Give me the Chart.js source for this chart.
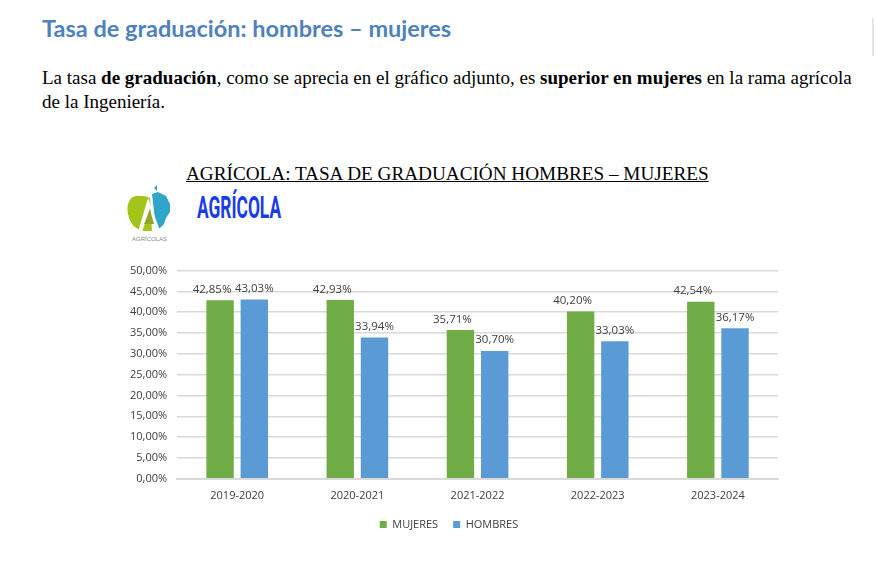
<!DOCTYPE html>
<html>
<head>
<meta charset="utf-8">
<script src="https://cdn.jsdelivr.net/npm/chart.js@4/dist/chart.umd.min.js"></script>
<style>
  body { margin: 0; background: #fff; width: 876px; height: 570px; position: relative; overflow: hidden; }
  h1 { position: absolute; left: 42px; top: 14px; margin: 0; font: bold 23.5px Lato, "Open Sans", sans-serif; color: #4f81bd; white-space: nowrap; }
  p { position: absolute; left: 42px; top: 66px; margin: 0; width: 820px; font: 19px "Liberation Serif", serif; line-height: 24px; color: #000; }
  .ttl { position: absolute; left: 186px; top: 163px; font: 19.2px "Liberation Serif", serif; text-decoration: underline; color: #000; white-space: nowrap; }
  .brand { position: absolute; left: 197px; top: 189px; font: bold 31px "Liberation Sans Narrow", "Roboto", sans-serif; color: #1a3be8; transform: scaleX(0.56); transform-origin: left; white-space: nowrap; }
  .logo { position: absolute; left: 126px; top: 184px; }
  .scroll { position: absolute; left: 872px; top: 18px; width: 2px; height: 38px; background: #e6e6e6; }
  #wrap { position: absolute; left: 120px; top: 254px; width: 670px; height: 287px; }
</style>
</head>
<body>
<h1>Tasa de graduación: hombres – mujeres</h1>
<div class="scroll"></div>
<p>La tasa <b>de graduación</b>, como se aprecia en el gráfico adjunto, es <b>superior en mujeres</b> en la rama agrícola de la Ingeniería.</p>
<div class="ttl">AGRÍCOLA: TASA DE GRADUACIÓN HOMBRES – MUJERES</div>
<svg class="logo" width="50" height="62" viewBox="0 0 50 62">
  <path d="M14 12 C4 10 0 20 2 30 C4 40 10 46 18 47 L26 47 L24 14 C20 12 17 12 14 12 Z" fill="#a3c41a"/>
  <path d="M26 10 L32 8 L40 12 L44 20 L44 28 L40 34 L38 40 L34 44 L30 44 Z" fill="#2fa5c9"/>
  <path d="M28 4 L31 1 L31 7 Z" fill="#2fa5c9"/>
  <path d="M22 14 L12 48 L16 48 L24 24 L30 44 L33 44 Z" fill="#fff"/>
  <path d="M18 40 L24 26 L28 40 Z" fill="#8da32a"/>
  <text x="6" y="57" font-family="Liberation Sans, sans-serif" font-size="6" fill="#888">AGRÍCOLAS</text>
</svg>
<div class="brand">AGRÍCOLA</div>
<div id="wrap"><canvas id="c"></canvas></div>
<script>
const years = ['2019-2020', '2020-2021', '2021-2022', '2022-2023', '2023-2024'];
const mujeres = [42.85, 42.93, 35.71, 40.20, 42.54];
const hombres = [43.03, 33.94, 30.70, 33.03, 36.17];
const yTicks = [0, 5, 10, 15, 20, 25, 30, 35, 40, 45, 50];

function pct(v) { return v.toFixed(2).replace('.', ',') + '%'; }

const labelPlugin = {
  id: 'barLabels',
  afterDatasetsDraw(chart) {
    const ctx = chart.ctx;
    ctx.save();
    ctx.font = '11.5px "Open Sans", sans-serif';
    ctx.fillStyle = '#404040';
    ctx.textAlign = 'center';
    ctx.textBaseline = 'bottom';
    chart.data.datasets.forEach((ds, i) => {
      chart.getDatasetMeta(i).data.forEach((bar, j) => {
        const dx = i === 0 ? -8 : 0;
        ctx.fillText(pct(ds.data[j]), bar.x + dx, bar.y - 5);
      });
    });
    ctx.restore();
  }
};

new Chart(document.getElementById('c'), {
  type: 'bar',
  data: {
    labels: years,
    datasets: [
      { label: 'MUJERES', data: mujeres, backgroundColor: '#70ad47' },
      { label: 'HOMBRES', data: hombres, backgroundColor: '#5b9bd5' }
    ]
  },
  options: {
    responsive: true,
    maintainAspectRatio: false,
    animation: false,
    categoryPercentage: 0.57,
    barPercentage: 0.8,
    layout: { padding: { left: 0, right: 12, top: 6, bottom: 1 } },
    plugins: {
      legend: {
        position: 'bottom',
        labels: { boxWidth: 7, boxHeight: 7, color: '#404040', font: { size: 11, family: '"Open Sans", sans-serif' }, padding: 15 }
      },
      tooltip: { enabled: false }
    },
    scales: {
      x: {
        grid: { display: false },
        border: { color: '#d9d9d9', width: 2 },
        ticks: { color: '#404040', font: { size: 11, family: '"Open Sans", sans-serif' }, padding: 2 }
      },
      y: {
        min: 0, max: 50,
        afterBuildTicks: axis => { axis.ticks = yTicks.map(v => ({ value: v })); },
        grid: { color: '#d9d9d9', lineWidth: 1.5, drawTicks: false },
        border: { display: false },
        ticks: { color: '#404040', font: { size: 11, family: '"Open Sans", sans-serif' }, padding: 10, callback: v => pct(v) }
      }
    }
  },
  plugins: [labelPlugin]
});
</script>
</body>
</html>
